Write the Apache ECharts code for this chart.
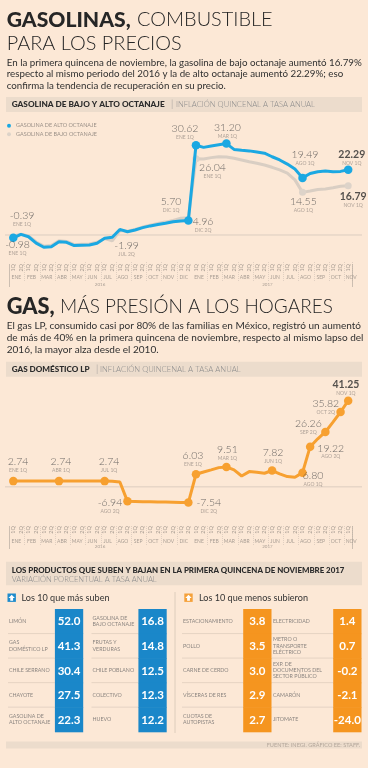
<!DOCTYPE html>
<html><head><meta charset="utf-8">
<script src="https://cdn.jsdelivr.net/npm/echarts@6/dist/echarts.min.js"></script>
<style>html,body{margin:0;padding:0;background:#fce8d6}#c{width:368px;height:768px}</style>
</head><body><div id="c"></div>
<script>
// ---------- DATA ----------
const monthNames = ['ENE','FEB','MAR','ABR','MAY','JUN','JUL','AGO','SEP','OCT','NOV','DIC'];
const quincenas = ['1Q','2Q'];
const yearLabels = ['2016','2017'];

// Gasolina de alto octanaje, inflación quincenal a tasa anual (ENE 1Q 2016 – NOV 1Q 2017)
const altoOctanaje = [-0.98, 0.2, -0.6, -2.8, -4.2, -4.0, -2.3, -2.5, -3.6, -3.5, -3.4, -2.8,
  -1.1, -0.8, 1.9, 1.1, 1.7, 2.5, 3.1, 3.6, 4.0, 4.5, 4.8, 4.96,
  30.62, 29.9, 30.4, 30.8, 31.20, 29.2, 28.9, 28.7, 28.3, 27.9, 26.7, 25.6,
  24.2, 22.5, 19.49, 21.0, 21.6, 21.8, 21.6, 21.7, 22.29];
// Gasolina de bajo octanaje
const bajoOctanaje = [-0.39, 0.3, -0.3, -2.4, -3.8, -3.6, -2.0, -2.2, -3.3, -3.2, -3.1, -2.5,
  -1.2, -1.99, 1.5, 1.3, 1.9, 2.7, 3.3, 3.9, 4.4, 5.0, 5.70, 5.9,
  26.04, 25.9, 26.4, 26.7, 26.6, 26.2, 25.6, 25.0, 24.5, 23.9, 23.1, 22.2,
  21.1, 18.8, 14.55, 15.0, 15.5, 15.7, 16.1, 16.6, 16.79];
// Gas doméstico LP
const gasLP = [2.74, 2.74, 2.74, 2.74, 2.74, 2.74, 2.74, 2.74, 2.74, 2.74, 2.74, 2.74,
  2.74, 2.7, 2.3, -6.94, -7.0, -7.1, -7.1, -7.2, -7.3, -7.4, -7.5, -7.54,
  6.03, 7.1, 8.1, 9.2, 9.51, 8.1, 5.2, 7.3, 7.0, 6.5, 7.82, 6.2,
  4.9, 4.6, 6.80, 19.22, 23.0, 26.26, 31.0, 35.82, 41.25];

const subenNames = ['LIMÓN','GAS\nDOMÉSTICO LP','CHILE SERRANO','CHAYOTE','GASOLINA DE\nALTO OCTANAJE',
  'GASOLINA DE\nBAJO OCTANAJE','FRUTAS Y\nVERDURAS','CHILE POBLANO','COLECTIVO','HUEVO'];
const subenValues = [52.0, 41.3, 30.4, 27.5, 22.3, 16.8, 14.8, 12.5, 12.3, 12.2];
const menosNames = ['ESTACIONAMIENTO','POLLO','CARNE DE CERDO','VÍSCERAS DE RES','CUOTAS DE\nAUTOPISTAS',
  'ELECTRICIDAD','METRO O\nTRANSPORTE\nELÉCTRICO','EXP. DE\nDOCUMENTOS DEL\nSECTOR PÚBLICO','CAMARÓN','JITOMATE'];
const menosValues = [3.8, 3.5, 3.0, 2.9, 2.7, 1.4, 0.7, -0.2, -2.1, -24.0];

// ---------- derived categories ----------
const periods = [];
for (const y of yearLabels) for (const m of monthNames) for (const q of quincenas) periods.push({y, m, q});
periods.splice(45);
const categories = periods.map(p => p.m + ' ' + p.q + ' ' + p.y);

// ---------- layout / style ----------
const BG = '#fce8d6';
const BLUE = '#1ba8e2', GREY = '#d9cec3', ORANGE = '#f7a030';
const TBLUE = '#1a87c9', TORANGE = '#f5951f';
// annotations: [index, dx, dy, bold]
const altoNotes = [[0, 4.2, 10.6], [23, 14.7, 5], [24, -11, -13.3], [28, 1, -12.1], [38, 2.5, -19.4], [44, 3.6, -11.7, true]];
const bajoNotes = [[0, 8.7, -16.6], [13, 14.3, 8.7], [22, -9.7, -12.8], [24, 16.5, 12.8], [38, 0.8, 13.1], [44, 5, 14.7, true]];
const gasNotes = [[0, 4.7, -15.7], [6, 2, -15.7], [12, 4.4, -15.7], [15, -17.5, 5.1], [23, 20.4, 3.8], [24, -3, -14.8],
  [28, 1, -14], [34, 1, -14.4], [38, 10.5, 6.8], [39, 20.6, 5.1], [41, -17, -4.8], [43, -14.8, -4.8], [44, -2.3, -12.7, true]];

const chart = echarts.init(document.getElementById('c'), null, {renderer: 'canvas', width: 368, height: 768});
const mctx = document.createElement('canvas').getContext('2d');
function fit(text, weight, family, target) {
  mctx.font = weight + ' 100px ' + family;
  return 100 * target / mctx.measureText(text).width;
}
const G = [];
function T(id, x, y, text, size, weight, fill, align) {
  G.push({type: 'text', id, x, y, silent: true,
    style: {text, font: weight + ' ' + size.toFixed(2) + 'px Lato', fill, align: align || 'left', verticalAlign: 'middle'}});
}
function R(id, x, y, w, h, fill) {
  G.push({type: 'rect', id, silent: true, shape: {x, y, width: w, height: h}, style: {fill}, z: 0});
}

// Titles
const t1b = fit('GASOLINAS,', 900, 'Lato', 124);
const t1l = fit('PARA LOS PRECIOS', 300, 'Lato', 175);
T('t1a', 6.7, 20, 'GASOLINAS,', t1b, 900, '#262626');
T('t1b', 137, 20, 'COMBUSTIBLE', t1l, 300, '#262626');
T('t1c', 6.7, 43.7, 'PARA LOS PRECIOS', t1l, 300, '#262626');
const p1 = ['En la primera quincena de noviembre, la gasolina de bajo octanaje aumentó 16.79%',
  'respecto al mismo periodo del 2016 y la de alto octanaje aumentó 22.29%; eso',
  'confirma la tendencia de recuperación en su precio.'];
const p1s = fit(p1[0], 400, 'Lato', 355);
p1.forEach((l, i) => T('p1_' + i, 6.7, 62.5 + i * 11.8, l, p1s, 400, '#303030'));

R('h1', 6, 97, 356, 15, '#ecdccc');
T('h1b', 11.7, 104.8, 'GASOLINA DE BAJO Y ALTO OCTANAJE', fit('GASOLINA DE BAJO Y ALTO OCTANAJE', 900, 'Lato', 153), 900, '#2b2b2b');
T('h1s', 171, 104.5, '|', 9, 300, '#8a8a8a');
T('h1l', 176, 104.8, 'INFLACIÓN QUINCENAL A TASA ANUAL', fit('INFLACIÓN QUINCENAL A TASA ANUAL', 300, 'Lato', 139), 300, '#8a8a8a');

// Chart 2 titles
T('t2a', 6.7, 307, 'GAS,', fit('GAS,', 900, 'Lato', 48), 900, '#262626');
T('t2b', 60, 307, 'MÁS PRESIÓN A LOS HOGARES', fit('MÁS PRESIÓN A LOS HOGARES', 300, 'Lato', 273), 300, '#262626');
const p2 = ['El gas LP, consumido casi por 80% de las familias en México, registró un aumentó',
  'de más de 40% en la primera quincena de noviembre, respecto al mismo lapso del',
  '2016, la mayor alza desde el 2010.'];
const p2s = fit(p2[0], 400, 'Lato', 355);
p2.forEach((l, i) => T('p2_' + i, 6.7, 326 + i * 11.7, l, p2s, 400, '#303030'));
R('h2', 6, 361.7, 356, 15, '#ecdccc');
T('h2b', 11.7, 369.4, 'GAS DOMÉSTICO LP', fit('GAS DOMÉSTICO LP', 900, 'Lato', 78), 900, '#2b2b2b');
T('h2s', 96, 369, '|', 9, 300, '#8a8a8a');
T('h2l', 100, 369.4, 'INFLACIÓN QUINCENAL A TASA ANUAL', fit('INFLACIÓN QUINCENAL A TASA ANUAL', 300, 'Lato', 140.7), 300, '#8a8a8a');

// Bottom section
R('h3', 6, 561.7, 356, 23.5, '#ecdccc');
T('h3b', 11.7, 570, 'LOS PRODUCTOS QUE SUBEN Y BAJAN EN LA PRIMERA QUINCENA DE NOVIEMBRE 2017',
  fit('LOS PRODUCTOS QUE SUBEN Y BAJAN EN LA PRIMERA QUINCENA DE NOVIEMBRE 2017', 900, 'Lato', 333), 900, '#2b2b2b');
T('h3l', 11.7, 579.3, 'VARIACIÓN PORCENTUAL A TASA ANUAL', fit('VARIACIÓN PORCENTUAL A TASA ANUAL', 300, 'Lato', 145), 300, '#8a8a8a');
function icon(id, x, y, color) {
  R(id + 'r', x, y, 8.4, 8.4, color);
  G.push({type: 'polygon', id: id + 'a', silent: true, shape: {points: [[x + 4.2, y + 1.3], [x + 7.4, y + 4.4], [x + 5.6, y + 4.4], [x + 5.6, y + 7.3], [x + 2.8, y + 7.3], [x + 2.8, y + 4.4], [x + 1, y + 4.4]]}, style: {fill: '#fff'}});
}
icon('i1', 7.5, 593.5, '#1f8ccc');
icon('i2', 184.3, 593.5, '#f5a13a');
T('l1', 21.5, 598, 'Los 10 que más suben', fit('Los 10 que más suben', 400, 'Lato', 88), 400, '#333');
T('l2', 199, 598, 'Los 10 que menos subieron', fit('Los 10 que menos subieron', 400, 'Lato', 109), 400, '#333');
G.push({type: 'line', id: 'div', silent: true, shape: {x1: 175, y1: 592, x2: 175, y2: 733}, style: {stroke: '#d6c6b6', lineWidth: 0.8}});
R('foot', 6, 741.5, 356, 7, '#ecdccc');
T('src', 360, 745, 'FUENTE: INEGI. GRÁFICO EE: STAFF.', 5.6, 400, '#b3a69a', 'right');

// ---------- axes ----------
function axesFor(gridIndex, labelMargin, monthOffset, yearOffset, tickLen, divLen) {
  const base = {type: 'category', gridIndex, data: categories, boundaryGap: true, position: 'bottom',
    axisLine: {show: false, onZero: false}, splitLine: {show: false}};
  return [
    Object.assign({}, base, {axisTick: {show: false},
      axisLabel: {interval: 0, rotate: 90, margin: labelMargin, fontSize: 5.5, fontFamily: 'Lato', color: '#a89d93',
        formatter: (v, i) => periods[i].q}}),
    Object.assign({}, base, {offset: monthOffset,
      axisTick: {show: true, inside: true, length: tickLen, interval: (i) => i % 2 === 0 && i > 0 && i !== 24,
        lineStyle: {color: '#cdbfb2', width: 0.6, type: [1, 1]}},
      axisLabel: {interval: (i) => i % 2 === 0, margin: -6, fontSize: 5, fontFamily: 'Lato', color: '#a89d93',
        padding: [0, 0, 0, 6], formatter: (v, i) => periods[i].m}}),
    Object.assign({}, base, {offset: yearOffset,
      axisTick: {show: true, inside: true, length: divLen, interval: (i) => i === 24,
        lineStyle: {color: '#b8aca0', width: 0.7}},
      axisLabel: {interval: (i) => i === 11 || i === 33, margin: -4.5, fontSize: 4.5, fontFamily: 'Lato', color: '#a89d93',
        padding: [0, 0, 0, 6], formatter: (v, i) => periods[i].y}})
  ];
}
const xAxes = [].concat(
  axesFor(0, 8.5, 25.5, 31.5, 20, 23),
  axesFor(1, 8, 26.8, 30.8, 20, 23),
  [{type: 'category', gridIndex: 2, data: ['a', 'b'], show: false},
   {type: 'category', gridIndex: 3, data: ['a', 'b'], show: false}]
);
const yAxes = [
  {type: 'value', gridIndex: 0, min: -7, max: 36, show: false, splitLine: {show: false}},
  {type: 'value', gridIndex: 1, min: -15, max: 45, show: false, splitLine: {show: false}},
  {type: 'category', gridIndex: 2, data: ['0', '1', '2', '3', '4'], inverse: true, show: false},
  {type: 'category', gridIndex: 3, data: ['0', '1', '2', '3', '4'], inverse: true, show: false}
];

function fmt2(v) { return v.toFixed(2); }
const rich = {
  v: {fontSize: 10.5, fontWeight: 300, fontFamily: 'Lato', color: '#4a4a4a', lineHeight: 10},
  vb: {fontSize: 10.5, fontWeight: 'bold', fontFamily: 'Lato', color: '#2a2a2a', lineHeight: 10},
  s: {fontSize: 5, fontFamily: 'Lato', color: '#9b9088', lineHeight: 7}
};
function noteSeries(notes, values, xi, yi) {
  return {type: 'scatter', xAxisIndex: xi, yAxisIndex: yi, symbolSize: 1, itemStyle: {color: 'rgba(0,0,0,0)'},
    silent: true, z: 5,
    data: notes.map(n => ({value: [n[0], values[n[0]]],
      label: {show: true, position: 'inside', offset: [n[1], n[2]],
        formatter: '{' + (n[3] ? 'vb' : 'v') + '|' + fmt2(values[n[0]]) + '}\n{s|' + periods[n[0]].m + ' ' + periods[n[0]].q + '}',
        rich}}))};
}
function dotSizer(set, size) { return (val, p) => set.indexOf(p.dataIndex) >= 0 ? size : 0; }

function tableRender(names, values, color, padR) {
  return function (params, api) {
    const k = params.dataIndex;
    const c = api.coord([api.value(0), api.value(1)]);
    const s = api.size([1, 1]);
    const left = c[0] - s[0] / 2, right = c[0] + s[0] / 2, top = c[1] - s[1] / 2;
    const cw = 28.3, cx = right - padR - cw;
    const ch = [
      {type: 'rect', shape: {x: cx, y: top, width: cw, height: s[1] + 0.6}, style: {fill: color}},
      {type: 'text', style: {text: values[k].toFixed(1), x: cx + cw / 2, y: c[1] + 0.5, align: 'center', verticalAlign: 'middle',
        fill: '#fff', font: 'bold 11.5px Lato'}},
      {type: 'text', style: {text: names[k], x: left + 1, y: c[1], align: 'left', verticalAlign: 'middle',
        fill: '#8b8580', font: '5.3px Lato', lineHeight: 6.2}}
    ];
    if (api.value(1) < 4) ch.push({type: 'line', shape: {x1: left, y1: top + s[1], x2: cx, y2: top + s[1]},
      style: {stroke: '#dcccbc', lineWidth: 0.7}});
    return {type: 'group', children: ch};
  };
}
function tableData(values) { return values.map((v, k) => [Math.floor(k / 5), k % 5, v]); }

const option = {
  animation: false,
  backgroundColor: BG,
  textStyle: {fontFamily: 'Lato'},
  grid: [
    {left: 9.5, width: 342.5, top: 129.5, height: 126},
    {left: 9.5, width: 342.5, top: 392.8, height: 125.4},
    {left: 8, width: 167, top: 609, height: 122.7},
    {left: 182, width: 180, top: 609, height: 122.7}
  ],
  legend: {left: 7, top: 122.2, orient: 'vertical', icon: 'circle', itemWidth: 4, itemHeight: 4, itemGap: 1.6,
    selectedMode: false, padding: 0,
    textStyle: {fontSize: 5.5, color: '#9a9088', lineHeight: 7, fontFamily: 'Lato'},
    data: ['GASOLINA DE ALTO OCTANAJE', 'GASOLINA DE BAJO OCTANAJE']},
  xAxis: xAxes,
  yAxis: yAxes,
  series: [
    {name: 'GASOLINA DE BAJO OCTANAJE', type: 'line', xAxisIndex: 0, yAxisIndex: 0, data: bajoOctanaje,
      color: GREY, lineStyle: {width: 3, color: GREY}, itemStyle: {color: '#ddd3c9'},
      symbol: 'circle', showAllSymbol: true, symbolSize: dotSizer([24, 38, 44], 7), z: 2, silent: true},
    {name: 'GASOLINA DE ALTO OCTANAJE', type: 'line', xAxisIndex: 0, yAxisIndex: 0, data: altoOctanaje,
      color: BLUE, lineStyle: {width: 3, color: BLUE}, itemStyle: {color: BLUE},
      symbol: 'circle', showAllSymbol: true, symbolSize: dotSizer([0, 23, 24, 28, 38, 44], 8.5), z: 3, silent: true},
    noteSeries(bajoNotes, bajoOctanaje, 0, 0),
    noteSeries(altoNotes, altoOctanaje, 0, 0),
    {name: 'GAS DOMÉSTICO LP', type: 'line', xAxisIndex: 3, yAxisIndex: 1, data: gasLP,
      color: ORANGE, lineStyle: {width: 3, color: ORANGE}, itemStyle: {color: ORANGE},
      symbol: 'circle', showAllSymbol: true, symbolSize: dotSizer([0, 6, 12, 15, 23, 24, 28, 34, 38, 39, 41, 43, 44], 8.5), z: 3, silent: true},
    noteSeries(gasNotes, gasLP, 3, 1),
    {type: 'custom', xAxisIndex: 6, yAxisIndex: 2, data: tableData(subenValues), silent: true,
      renderItem: tableRender(subenNames, subenValues, TBLUE, 8.3)},
    {type: 'custom', xAxisIndex: 7, yAxisIndex: 3, data: tableData(menosValues), silent: true,
      renderItem: tableRender(menosNames, menosValues, TORANGE, 0.5)}
  ],
  graphic: {elements: G}
};
chart.setOption(option);
const z1 = chart.convertToPixel({yAxisIndex: 0}, 0);
const z2 = chart.convertToPixel({yAxisIndex: 1}, 0);
G.push({type: 'line', id: 'zero1', silent: true, z: 1, shape: {x1: 5, y1: z1, x2: 362, y2: z1}, style: {stroke: '#d3c7bb', lineWidth: 0.8}});
G.push({type: 'line', id: 'zero2', silent: true, z: 1, shape: {x1: 5, y1: z2, x2: 362, y2: z2}, style: {stroke: '#d3c7bb', lineWidth: 0.8}});
chart.setOption({graphic: {elements: G}});
</script>
</body></html>
